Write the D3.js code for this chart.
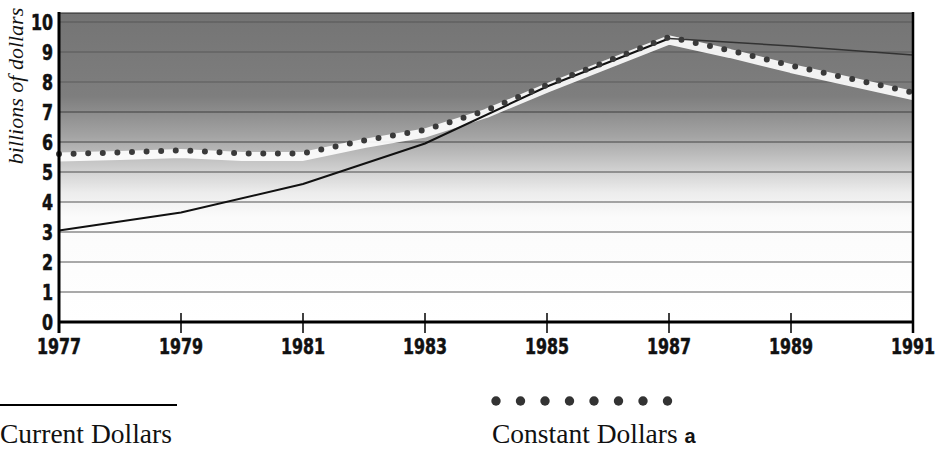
<!DOCTYPE html>
<html>
<head>
<meta charset="utf-8">
<script src="https://cdn.jsdelivr.net/npm/d3@7"></script>
<style>
  body { margin: 0; background: #fff; }
  svg { display: block; }
  .tick-lbl { font-family: "Liberation Sans Narrow", "DejaVu Sans Condensed", "Roboto", sans-serif; font-weight: bold; font-size: 21px; fill: #111; stroke: #111; stroke-width: 0.5px; }
  .serif { font-family: "Liberation Serif", "DejaVu Serif", serif; fill: #111; }
</style>
</head>
<body>
<svg id="chart" width="942" height="451"></svg>
<script>
// data
const years = [1977, 1978, 1979, 1980, 1981, 1982, 1983, 1984, 1985, 1986, 1987, 1988, 1989, 1990, 1991];
const constantDollars = [5.6, 5.65, 5.72, 5.62, 5.62, 6.05, 6.4, 7.05, 7.9, 8.7, 9.5, 9.05, 8.55, 8.1, 7.65];
const currentYears = [1977, 1979, 1981, 1983, 1985, 1987, 1989, 1991];
const currentDollars = [3.05, 3.65, 4.6, 5.95, 7.85, 9.45, 9.2, 8.9];
const xTicks = [1977, 1979, 1981, 1983, 1985, 1987, 1989, 1991];
const yTicks = [0, 1, 2, 3, 4, 5, 6, 7, 8, 9, 10];

const svg = d3.select("#chart");

const x = d3.scaleLinear().domain([1977, 1991]).range([59, 913]);
const y = d3.scaleLinear().domain([0, 10]).range([322, 22]);
const yTop = y(10.3);

// shaded background
const defs = svg.append("defs");
const grad = defs.append("linearGradient")
    .attr("id", "bg")
    .attr("gradientUnits", "userSpaceOnUse")
    .attr("x1", 0).attr("x2", 0)
    .attr("y1", yTop).attr("y2", y(0));
[[0, "#747474"], [0.27, "#7e7e7e"], [0.4, "#a4a4a4"], [0.5, "#cdcdcd"], [0.58, "#ececec"], [0.66, "#fbfbfb"], [1, "#ffffff"]]
    .forEach(s => grad.append("stop").attr("offset", s[0]).attr("stop-color", s[1]));

svg.append("rect")
    .attr("x", x(1977)).attr("y", yTop)
    .attr("width", x(1991) - x(1977))
    .attr("height", y(0) - yTop)
    .attr("fill", "url(#bg)");

// grid
svg.append("g")
    .selectAll("line")
    .data(yTicks.filter(d => d > 0))
    .join("line")
    .attr("x1", x(1977)).attr("x2", x(1991))
    .attr("y1", d => y(d)).attr("y2", d => y(d))
    .attr("stroke", "#2a2a2a")
    .attr("stroke-opacity", d => d >= 8 ? 0.4 : 0.8)
    .attr("stroke-width", 1);

svg.append("line")
    .attr("x1", x(1977)).attr("x2", x(1991))
    .attr("y1", yTop).attr("y2", yTop)
    .attr("stroke", "#222").attr("stroke-width", 1.2);

// constant dollars: white band + dots
const constLine = d3.line()
    .x((d, i) => x(years[i]))
    .y(d => y(d));

svg.append("path")
    .datum(constantDollars)
    .attr("d", constLine)
    .attr("transform", "translate(0,3)")
    .attr("fill", "none")
    .attr("stroke", "#fff")
    .attr("stroke-opacity", 0.9)
    .attr("stroke-width", 9)
    .attr("stroke-linejoin", "round");

// current dollars
const curLine = d3.line()
    .x((d, i) => x(currentYears[i]))
    .y(d => y(d));

svg.append("path")
    .datum(currentDollars.slice(0, 6))
    .attr("d", curLine)
    .attr("fill", "none")
    .attr("stroke", "#111")
    .attr("stroke-width", 2);

svg.append("path")
    .datum(currentDollars)
    .attr("d", d3.line().x((d, i) => x(currentYears[i])).y(d => y(d)).defined((d, i) => i >= 5))
    .attr("fill", "none")
    .attr("stroke", "#333")
    .attr("stroke-width", 1.5);

svg.append("path")
    .datum(constantDollars)
    .attr("d", constLine)
    .attr("fill", "none")
    .attr("stroke", "#3a3a3a")
    .attr("stroke-width", 6)
    .attr("stroke-linecap", "round")
    .attr("stroke-dasharray", "0 14.6");

// axes
svg.append("line")
    .attr("x1", x(1977)).attr("x2", x(1977))
    .attr("y1", yTop - 1).attr("y2", y(0) + 11)
    .attr("stroke", "#000").attr("stroke-width", 3);
svg.append("line")
    .attr("x1", x(1991)).attr("x2", x(1991))
    .attr("y1", yTop - 1).attr("y2", y(0) + 11)
    .attr("stroke", "#000").attr("stroke-width", 2.5);
svg.append("line")
    .attr("x1", x(1977)).attr("x2", x(1991))
    .attr("y1", y(0)).attr("y2", y(0))
    .attr("stroke", "#000").attr("stroke-width", 3);

svg.append("g")
    .selectAll("line")
    .data(xTicks.slice(1, -1))
    .join("line")
    .attr("x1", d => x(d)).attr("x2", d => x(d))
    .attr("y1", y(0) - 9).attr("y2", y(0) + 11)
    .attr("stroke", "#000").attr("stroke-width", 1.5);

svg.append("g")
    .selectAll("text")
    .data(xTicks)
    .join("text")
    .attr("class", "tick-lbl")
    .attr("transform", d => `translate(${x(d)},354) scale(0.84,1)`)
    .attr("text-anchor", "middle")
    .text(d => d);

svg.append("g")
    .selectAll("text")
    .data(yTicks)
    .join("text")
    .attr("class", "tick-lbl")
    .attr("transform", d => `translate(53,${y(d) + 7.5}) scale(0.84,1)`)
    .attr("text-anchor", "end")
    .text(d => d);

svg.append("text")
    .attr("class", "serif")
    .attr("transform", "translate(23,86) rotate(-90)")
    .attr("text-anchor", "middle")
    .attr("font-style", "italic")
    .attr("font-size", 22)
    .text("billions of dollars");

// legend
svg.append("line")
    .attr("x1", 0).attr("x2", 177)
    .attr("y1", 405).attr("y2", 405)
    .attr("stroke", "#000").attr("stroke-width", 2.2);
svg.append("text")
    .attr("class", "serif")
    .attr("x", 0).attr("y", 443)
    .attr("font-size", 27.5)
    .text("Current Dollars");

svg.append("g")
    .selectAll("circle")
    .data(d3.range(8))
    .join("circle")
    .attr("cx", d => 496 + d * 24.5)
    .attr("cy", 401)
    .attr("r", 4.7)
    .attr("fill", "#333");

const lbl = svg.append("text")
    .attr("class", "serif")
    .attr("x", 492).attr("y", 443)
    .attr("font-size", 27.5);
lbl.append("tspan").text("Constant Dollars ");
lbl.append("tspan")
    .attr("font-family", "'Liberation Sans', Arial, sans-serif")
    .attr("font-weight", "bold")
    .attr("font-size", 20)
    .text("a");
</script>
</body>
</html>
